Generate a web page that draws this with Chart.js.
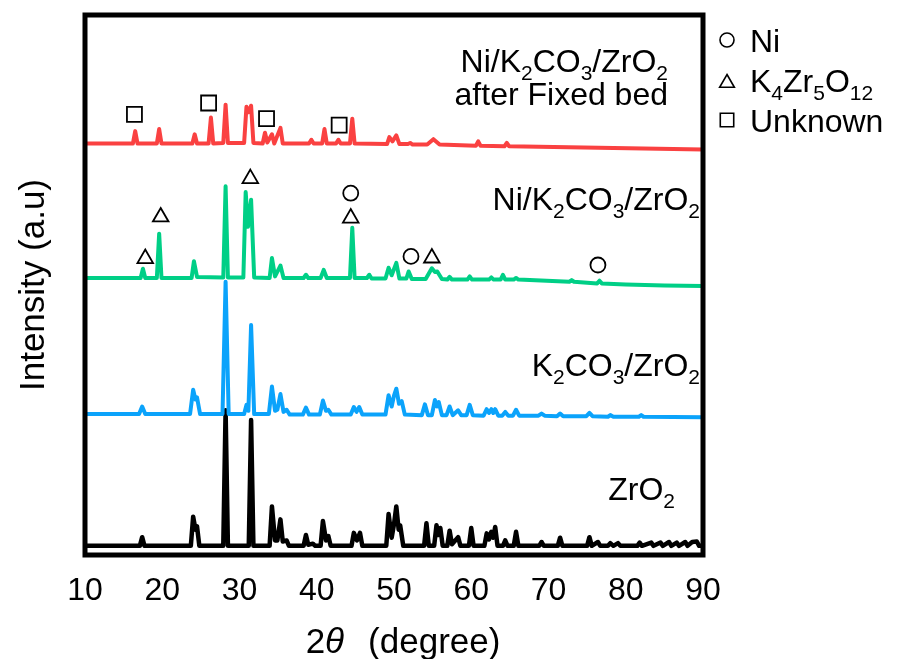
<!DOCTYPE html>
<html>
<head>
<meta charset="utf-8">
<script src="https://cdn.jsdelivr.net/npm/chart.js@4.4.1/dist/chart.umd.min.js"></script>
<style>
  html, body { margin: 0; padding: 0; background: #fff; }
  #wrap { width: 897px; height: 659px; position: relative; }
</style>
</head>
<body>
<div id="wrap"><canvas id="xrd"></canvas></div>
<script>
// ---- XRD patterns, [2theta, intensity a.u.] ----
const zro2 = [
  [10,0],[17.1,0],[17.4,16],[17.7,0],
  [23.7,0],[24.0,54],[24.3,30],[24.5,36],[24.8,0],
  [27.9,0],[28.2,251],[28.5,0],
  [31.2,0],[31.5,233],[31.8,0],
  [33.9,0],[34.2,73],[34.6,10],[34.9,10],[35.3,49],[35.6,8],[36.1,10],[36.4,0],
  [38.3,0],[38.6,20],[38.9,2],[39.5,4],[39.8,0],
  [40.5,0],[40.8,46],[41.2,10],[41.5,18],[41.8,0],
  [44.5,0],[44.8,24],[45.2,10],[45.6,24],[45.9,0],
  [49.0,0],[49.3,59],[49.7,15],[50.0,40],[50.3,73],[50.6,30],[50.8,38],[51.2,0],
  [53.9,0],[54.2,42],[54.5,0],
  [55.2,0],[55.5,38],[55.75,20],[56.0,33],[56.3,0],
  [56.9,0],[57.2,28],[57.5,3],[58.3,16],[58.6,0],
  [59.7,0],[60.0,33],[60.3,0],
  [61.7,0],[62.0,23],[62.3,12],[62.6,26],[62.85,15],[63.1,35],[63.4,0],
  [64.1,0],[64.4,10],[64.7,0],
  [65.5,0],[65.8,26],[66.1,0],
  [68.8,0],[69.1,7],[69.4,0],
  [71.2,0],[71.5,15],[71.8,0],
  [75.0,0],[75.3,16],[75.6,0],[76.4,7],[76.7,0],
  [77.7,0],[78.0,5],[78.4,0],[79.0,5],[79.3,0],
  [81.5,0],[81.8,6],[82.1,0],[83.3,6],[83.6,0],[84.5,6],[84.8,0],[85.6,7],[85.9,0],
  [86.6,6],[86.9,0],[87.7,7],[88.0,0],[88.6,7],[89.2,8],[89.5,0],[90,0]
];
const k2co3 = [
  [10,6],[17.0,6],[17.4,20],[17.8,6],
  [23.6,6],[24.0,51],[24.3,33],[24.5,37],[24.9,6],
  [27.8,6],[28.2,251],[28.6,6],
  [30.6,6],[30.9,23],[31.15,12],[31.5,171],[31.9,6],
  [33.8,6],[34.2,57],[34.6,12],[34.9,14],[35.3,43],[35.7,10],[36.1,14],[36.5,5],
  [38.2,5],[38.6,18],[39.0,5],
  [40.4,5],[40.8,31],[41.2,12],[41.5,14],[41.9,5],
  [44.4,5],[44.8,19],[45.15,10],[45.5,19],[45.9,5],
  [48.9,5],[49.3,41],[49.7,20],[50.0,40],[50.3,53],[50.65,25],[51.0,30],[51.4,5],
  [53.6,4],[54.0,24],[54.4,4],
  [54.9,4],[55.3,32],[55.55,20],[55.8,28],[56.2,4],
  [56.8,4],[57.2,20],[57.6,4],[58.3,13],[58.7,4],
  [59.4,4],[59.8,23],[60.2,4],
  [61.6,3],[62.0,15],[62.3,8],[62.6,15],[62.85,8],[63.1,15],[63.5,3],
  [64.0,3],[64.4,10],[64.8,3],
  [65.4,3],[65.8,14],[66.2,3],
  [68.7,3],[69.1,7],[69.5,3],
  [71.1,2],[71.5,7],[71.9,2],
  [74.9,2],[75.3,8],[75.7,2],
  [77.7,1],[78.0,4],[78.4,1],
  [81.7,1],[82.0,4],[82.3,1],
  [90,0]
];
const niK2co3 = [
  [10,15],[17.2,15],[17.5,32],[17.8,15],
  [19.3,15],[19.6,97],[19.9,15],
  [23.8,15],[24.1,46],[24.5,17],
  [27.9,16],[28.2,185],[28.5,16],
  [30.5,16],[30.8,174],[31.1,110],[31.5,160],[31.9,16],
  [33.9,15],[34.2,52],[34.6,18],[35.3,38],[35.7,15],
  [38.3,15],[38.6,21],[38.9,15],
  [40.5,15],[40.9,30],[41.3,15],
  [44.3,15],[44.6,108],[44.9,15],
  [46.5,15],[46.8,21],[47.1,14],
  [48.9,14],[49.3,34],[49.7,20],[50.3,43],[50.7,14],
  [51.6,14],[51.9,27],[52.3,13],
  [54.1,13],[54.9,33],[55.3,26],[55.6,27],[56.2,13],
  [56.9,12],[57.2,17],[57.5,12],
  [59.5,12],[59.8,18],[60.1,12],
  [62.3,12],[62.6,16],[62.9,12],
  [63.8,12],[64.1,21],[64.4,12],
  [65.5,12],[65.8,15],[66.1,12],
  [72.7,8],[73.0,11],[73.3,8],
  [76.3,5],[76.6,10],[76.9,5],
  [80,3],[85,1],[90,0]
];
const afterBed = [
  [10,12],[16.2,12],[16.5,35],[16.8,12],
  [19.3,12],[19.6,39],[19.9,12],
  [23.9,12],[24.2,29],[24.5,12],
  [26.0,12],[26.3,60],[26.6,12],
  [27.9,13],[28.2,84],[28.5,13],
  [30.6,13],[30.9,80],[31.2,70],[31.5,82],[31.8,13],
  [33.0,12],[33.3,32],[33.6,14],[34.2,29],[34.5,12],[35.3,41],[35.6,12],
  [39.0,12],[39.3,19],[39.6,12],
  [40.7,12],[41.0,39],[41.3,12],
  [42.5,12],[42.8,19],[43.1,12],
  [44.3,12],[44.6,58],[44.9,12],
  [49.1,11],[49.4,24],[49.8,16],[50.3,27],[50.7,11],
  [51.8,11],[52.1,13],[52.4,10],
  [54.3,10],[55.1,20],[55.9,10],
  [60.6,8],[60.9,16],[61.2,8],
  [64.3,7],[64.6,13],[64.9,7],
  [90,1]
];

// vertical stacking offsets (a.u.)
const offsets = [17, 255, 498, 750];

// phase markers [2theta, a.u.]
const niMarks = [[44.4, 670], [52.2, 553], [76.4, 537]];
const k4Marks = [[17.8, 549], [19.8, 626], [31.4, 697], [44.4, 624], [54.9, 550]];
const unkMarks = [[16.4, 816], [26.0, 837], [33.5, 808], [42.9, 796]];

const xTicks = [10, 20, 30, 40, 50, 60, 70, 80, 90];
const sampleLabels = ["Ni/K_2CO_3/ZrO_2", "after Fixed bed", "Ni/K_2CO_3/ZrO_2", "K_2CO_3/ZrO_2", "ZrO_2"];
const legendNames = ["Ni", "K_4Zr_5O_12", "Unknown"];

const FONT = "'Liberation Sans', Arial, sans-serif";

const toXY = (arr, off) => arr.map(([x, y]) => ({ x, y: y + off }));

function lineSet(arr, off, color, w) {
  return {
    data: toXY(arr, off),
    showLine: true,
    borderColor: color,
    borderWidth: w,
    borderJoinStyle: "round",
    pointRadius: 0,
    tension: 0,
  };
}
function markSet(arr, style, r) {
  return {
    data: toXY(arr, 0),
    showLine: false,
    pointStyle: style,
    pointRadius: r,
    pointHoverRadius: r,
    pointBorderColor: "#000",
    pointBackgroundColor: "rgba(0,0,0,0)",
    pointBorderWidth: 1.8,
  };
}

// draw "K_2CO_3" style text with real subscripts
function richText(ctx, str, x, y, align, size) {
  const parts = str.split(/(_\d+)/).filter(Boolean).map(p =>
    p[0] === "_" ? { t: p.slice(1), sub: true } : { t: p, sub: false });
  const big = size + "px " + FONT, small = Math.round(size * 0.66) + "px " + FONT;
  let w = 0;
  parts.forEach(p => { ctx.font = p.sub ? small : big; p.w = ctx.measureText(p.t).width; w += p.w; });
  let cx = align === "right" ? x - w : align === "center" ? x - w / 2 : x;
  ctx.textAlign = "left";
  ctx.textBaseline = "alphabetic";
  parts.forEach(p => {
    ctx.font = p.sub ? small : big;
    ctx.fillText(p.t, cx, y + (p.sub ? size * 0.26 : 0));
    cx += p.w;
  });
}

const xrdDecor = {
  id: "xrdDecor",
  afterDatasetsDraw(chart) {
    const { ctx, chartArea: a } = chart;
    ctx.save();
    ctx.lineWidth = 5;
    ctx.strokeStyle = "#000";
    ctx.strokeRect(a.left, a.top, a.right - a.left, a.bottom - a.top);

    ctx.fillStyle = "#000";
    const pos = [[668, 72], [668, 105], [700, 210], [700, 376], [675, 500]];
    sampleLabels.forEach((s, i) => richText(ctx, s, pos[i][0], pos[i][1], "right", 32));

    // legend
    const styles = [["circle", 7], ["triangle", 8.5], ["rect", 9.5]];
    legendNames.forEach((s, i) => {
      const cy = 40 + i * 40;
      ctx.lineWidth = 1.6;
      ctx.strokeStyle = "#000";
      ctx.fillStyle = "rgba(0,0,0,0)";
      Chart.helpers.drawPoint(ctx, {
        pointStyle: styles[i][0], radius: styles[i][1], rotation: 0, borderWidth: 1.6,
      }, 727, cy + (i === 1 ? 3 : 0));
      ctx.fillStyle = "#000";
      richText(ctx, s, 750, cy + 11.5, "left", 32);
    });

    // x title with italic theta
    const size = 35;
    const y = 653;
    ctx.textBaseline = "alphabetic";
    ctx.textAlign = "left";
    ctx.font = size + "px " + FONT;
    const w2 = ctx.measureText("2").width;
    const wd = ctx.measureText("(degree)").width;
    ctx.font = "italic " + size + "px " + FONT;
    const wt = ctx.measureText("\u03b8").width;
    const gap = 24;
    let x0 = 403 - (w2 + wt + gap + wd) / 2;
    ctx.font = size + "px " + FONT;
    ctx.fillText("2", x0, y);
    ctx.fillText("(degree)", x0 + w2 + wt + gap, y);
    ctx.font = "italic " + size + "px " + FONT;
    ctx.fillText("\u03b8", x0 + w2, y);
    ctx.restore();
  },
};

new Chart(document.getElementById("xrd"), {
  type: "scatter",
  data: {
    datasets: [
      lineSet(afterBed, offsets[3], "#fa4141", 4),
      lineSet(niK2co3, offsets[2], "#00cf86", 4),
      lineSet(k2co3, offsets[1], "#0ba3fb", 4),
      lineSet(zro2, offsets[0], "#000000", 4.5),
      markSet(niMarks, "circle", 7.5),
      markSet(k4Marks, "triangle", 9),
      markSet(unkMarks, "rect", 10.6),
    ],
  },
  options: {
    responsive: true,
    maintainAspectRatio: false,
    animation: false,
    layout: { padding: { left: 0, right: 194, top: 15, bottom: 32 } },
    plugins: { legend: { display: false }, tooltip: { enabled: false } },
    scales: {
      x: {
        type: "linear",
        min: 10,
        max: 90,
        afterBuildTicks: (s) => { s.ticks = xTicks.map(v => ({ value: v })); },
        grid: { display: false, drawTicks: false },
        border: { display: false },
        ticks: {
          color: "#000",
          padding: 20,
          maxRotation: 0,
          autoSkip: false,
          font: { family: FONT, size: 32, lineHeight: 1 },
        },
      },
      y: {
        min: 0,
        max: 1000,
        grid: { display: false, drawTicks: false },
        border: { display: false },
        ticks: { display: false },
        title: {
          display: true,
          text: "Intensity (a.u)",
          color: "#000",
          font: { family: FONT, size: 35, lineHeight: 1 },
          padding: { top: 17, bottom: 33 },
        },
      },
    },
  },
  plugins: [xrdDecor],
});
</script>
</body>
</html>
